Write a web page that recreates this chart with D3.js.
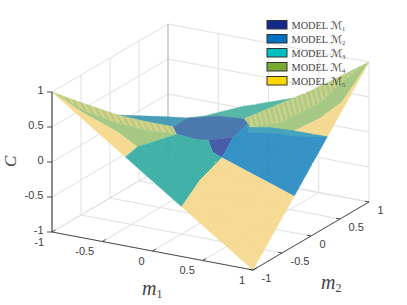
<!DOCTYPE html>
<html>
<head>
<meta charset="utf-8">
<script src="https://cdn.jsdelivr.net/npm/d3@7"></script>
<style>
html,body{margin:0;padding:0;background:#fff}
svg{display:block}
</style>
</head>
<body>
<div id="chart"></div>
<script>
// values
var tickValues = [-1, -0.5, 0, 0.5, 1]
var tickLabels = ["-1", "-0.5", "0", "0.5", "1"]
var legendLabels = ["1", "2", "3", "4", "5"]
var legendColors = ["#14288c", "#0070c0", "#00bfbf", "#78ac30", "#ffd700"]

// region outlines as [m1, m2, C]
var yellowLeft = [[-1,-1,1],[-.81,-.79,.65],[-.58,-.60,.35],[-.37,-.62,.2],[-.27,-1,.27]]
var greenLeft = [[-1,-1,1],[-.85,-.73,.65],[-.69,-.54,.45],[-.46,-.37,.3],[-.28,-.09,.15],[-.37,-.62,.2],[-.58,-.60,.35],[-.81,-.79,.65]]
var stripesLeft = [[-1,-1,1],[-.90,-.65,.7],[-.70,-.38,.45],[-.57,-.17,.3],[-.36,-.02,.2],[-.28,-.09,.15],[-.46,-.37,.3],[-.69,-.54,.45],[-.85,-.73,.65]]
var backBlue = [[-.70,-.38,.45],[-.53,.18,.2],[-.36,.24,.2],[-.36,-.02,.2],[-.57,-.17,.3]]
var backTeal = [[-.36,.24,.2],[-.31,.43,.15],[-.02,.55,.3],[.49,.58,.55],[.16,.30,.3],[-.12,.33,.25]]
var darkBlue = [[-.28,-.09,.15],[-.36,-.02,.2],[-.36,.24,.2],[-.12,.33,.25],[.16,.30,.3],[.21,.28,.25],[.18,.08,.15],[.03,-.09,.15],[-.06,-.13,.15]]
var darkest = [[.03,-.09,.15],[.18,.08,.15],[.27,-.27,.05],[.17,-.26,.1]]
var frontTeal = [[-.27,-1,.27],[-.37,-.62,.2],[-.28,-.09,.15],[-.06,-.13,.15],[.03,-.09,.15],[.17,-.26,.1],[.27,-.27,.05],[.21,-.54,-.15],[.29,-1,-.29]]
var frontYellow = [[.29,-1,-.29],[.21,-.54,-.15],[.27,-.27,.05],[1,-.29,-.29],[1,-1,-1]]
var frontBlue = [[.27,-.27,.05],[.18,.08,.15],[.21,.28,.25],[.27,.20,.25],[.47,.21,.3],[.74,.16,.35],[1,.28,.28],[1,-.29,-.29]]
var blueTop = [[.21,.28,.25],[.27,.20,.25],[.47,.21,.3],[.74,.16,.35],[1,.28,.28],[.74,.16,.28],[.47,.21,.23],[.27,.20,.18],[.21,.28,.18]]
var greenRight = [[.27,.20,.25],[.62,.13,.45],[.73,.28,.55],[.84,.43,.65],[.87,.81,.8],[1,1,1],[.96,.86,.8],[.95,.62,.6],[.95,.25,.55],[.74,.16,.35],[.47,.21,.3]]
var stripesRight = [[.16,.30,.3],[.49,.58,.55],[.62,.69,.65],[1,1,1],[.87,.81,.8],[.84,.43,.65],[.73,.28,.55],[.62,.13,.45],[.27,.20,.25],[.21,.28,.25]]
var yellowRight = [[1,.28,.28],[.74,.16,.35],[.95,.25,.55],[.95,.62,.6],[.96,.86,.8],[1,1,1]]

var regions = [
    {pts: backBlue, fill: "#3e98b4", dot: "#3a8fb0"},
    {pts: backTeal, fill: "#4db5a2", dot: "#46ad9e"},
    {pts: stripesLeft, fill: "#b0c87c", dot: "#d8d080", lean: -30},
    {pts: stripesRight, fill: "#a6c67e", dot: "#c9cf80", lean: -15},
    {pts: greenLeft, fill: "#a3c67c", dot: "#9cc27c"},
    {pts: greenRight, fill: "#a3c67c", dot: "#9cc27c"},
    {pts: yellowLeft, fill: "#f7da8c", dot: "#f3d588"},
    {pts: yellowRight, fill: "#f5d98c", dot: "#f0d488"},
    {pts: darkBlue, fill: "#3f72aa", dot: "#3a6aa6"},
    {pts: darkest, fill: "#3d5aa6", dot: "#31409a"},
    {pts: frontTeal, fill: "#38b0a4", dot: "#2ea59f"},
    {pts: frontBlue, fill: "#2b8fc4", dot: "#2483bd"},
    {pts: blueTop, fill: "#3a9fb8", dot: "#3498bb"},
    {pts: frontYellow, fill: "#f7db90", dot: "#f3d588"}
]

var width = 407, height = 305

// oblique axes, each scale gives the pixel shift of one data axis
var m1X = d3.scaleLinear().domain([-1, 1]).range([0, 201])
var m1Y = d3.scaleLinear().domain([-1, 1]).range([0, 38])
var m2X = d3.scaleLinear().domain([-1, 1]).range([0, 116])
var m2Y = d3.scaleLinear().domain([-1, 1]).range([0, -68])
var cY = d3.scaleLinear().domain([-1, 1]).range([0, -140])

function project(p){
    return [52 + m1X(p[0]) + m2X(p[1]), 232 + m1Y(p[0]) + m2Y(p[1]) + cY(p[2])]
}

var svg = d3.select("#chart").append("svg").attr("width", width).attr("height", height)
var defs = svg.append("defs")
var soft = defs.append("filter").attr("id", "soft")
soft.append("feTurbulence").attr("type", "fractalNoise").attr("baseFrequency", 0.9).attr("numOctaves", 1).attr("seed", 3).attr("result", "noise")
soft.append("feDisplacementMap").attr("in", "SourceGraphic").attr("in2", "noise").attr("scale", 2).attr("result", "rough")
soft.append("feGaussianBlur").attr("in", "rough").attr("stdDeviation", 0.3)

regions.forEach(function(r, i){
    var pat = defs.append("pattern").attr("id", "pat" + i).attr("patternUnits", "userSpaceOnUse")
    if(r.lean){
        pat.attr("width", 5).attr("height", 5).attr("patternTransform", "rotate(" + r.lean + ")")
        pat.append("rect").attr("width", 5).attr("height", 5).attr("fill", r.fill)
        pat.append("rect").attr("width", 2.5).attr("height", 5).attr("fill", r.dot)
    } else {
        pat.attr("width", 3).attr("height", 3)
        pat.append("rect").attr("width", 3).attr("height", 3).attr("fill", r.fill)
        pat.append("rect").attr("x", 0).attr("y", 0).attr("width", 1).attr("height", 1).attr("fill", r.dot)
        pat.append("rect").attr("x", 2).attr("y", 1).attr("width", 1).attr("height", 1).attr("fill", r.dot)
        pat.append("rect").attr("x", 1).attr("y", 2).attr("width", 1).attr("height", 1).attr("fill", r.dot)
    }
})

//#region GRID
var grid = svg.append("g").attr("fill", "none").attr("stroke", "#e0e0e0").attr("stroke-width", 1)
function gridLine(a, b){
    var p = project(a), q = project(b)
    grid.append("line").attr("x1", p[0]).attr("y1", p[1]).attr("x2", q[0]).attr("y2", q[1])
}
tickValues.forEach(function(t){
    gridLine([t, -1, -1], [t, 1, -1])
    gridLine([-1, t, -1], [1, t, -1])
    gridLine([-1, t, -1], [-1, t, 1])
    gridLine([t, 1, -1], [t, 1, 1])
    gridLine([-1, -1, t], [-1, 1, t])
    gridLine([-1, 1, t], [1, 1, t])
})
var corner = project([-1, 1, -1]), cornerTop = project([-1, 1, 1])
grid.append("line").attr("x1", corner[0]).attr("y1", corner[1]).attr("x2", cornerTop[0]).attr("y2", cornerTop[1]).attr("stroke", "#bdbdbd")

//#region SURFACE
var lineGen = d3.line().x(function(p){ return project(p)[0] }).y(function(p){ return project(p)[1] })
svg.append("g").attr("filter", "url(#soft)").attr("opacity", 0.93).selectAll("path").data(regions).enter().append("path")
    .attr("d", function(r){ return lineGen(r.pts) + "Z" })
    .attr("fill", function(r, i){ return "url(#pat" + i + ")" })
    .attr("stroke", function(r){ return r.fill })
    .attr("stroke-width", 0.5)

//#region AXES
var axes = svg.append("g").attr("font-family", "'Liberation Sans', Arial, sans-serif").attr("font-size", 11).attr("fill", "#404040")
function axisLine(a, b, color, w){
    var p = project(a), q = project(b)
    axes.append("line").attr("x1", p[0]).attr("y1", p[1]).attr("x2", q[0]).attr("y2", q[1]).attr("stroke", color).attr("stroke-width", w)
}
axisLine([-1, -1, -1], [-1, -1, 1], "#8c8c8c", 2)
axisLine([-1, -1, -1], [1, -1, -1], "#262626", 0.8)
axisLine([1, -1, -1], [1, 1, -1], "#262626", 0.8)

tickValues.forEach(function(t, i){
    // C ticks
    var pc = project([-1, -1, t])
    axes.append("line").attr("x1", pc[0] - 5).attr("y1", pc[1]).attr("x2", pc[0]).attr("y2", pc[1]).attr("stroke", "#262626").attr("stroke-width", 0.8)
    axes.append("text").attr("x", pc[0] - 8.5).attr("y", pc[1] + 1.5).attr("text-anchor", "end").text(tickLabels[i])

    // m1 ticks
    var p1 = project([t, -1, -1]), p1b = project([t, -0.94, -1])
    axes.append("line").attr("x1", p1[0]).attr("y1", p1[1]).attr("x2", p1b[0]).attr("y2", p1b[1]).attr("stroke", "#262626").attr("stroke-width", 0.8)
    axes.append("text").attr("x", p1[0] - 8).attr("y", p1[1] + 13.5).attr("text-anchor", "end").text(tickLabels[i])

    // m2 ticks
    var p2 = project([1, t, -1]), p2b = project([0.96, t, -1])
    axes.append("line").attr("x1", p2[0]).attr("y1", p2[1]).attr("x2", p2b[0]).attr("y2", p2b[1]).attr("stroke", "#262626").attr("stroke-width", 0.8)
    axes.append("text").attr("x", p2[0] + 8.5).attr("y", p2[1] + 11.5).attr("text-anchor", "start").text(tickLabels[i])
})

//#region LABELS
var labels = svg.append("g").attr("font-family", "'Liberation Serif', serif").attr("fill", "#444")
function mathLabel(x, y, name, sub){
    var t = labels.append("text").attr("x", x).attr("y", y).attr("font-size", 20).attr("font-style", "italic").text(name)
    t.append("tspan").attr("font-size", 12).attr("font-style", "normal").attr("dy", 3).text(sub)
}
mathLabel(142, 295, "m", "1")
mathLabel(321, 289, "m", "2")
labels.append("text").attr("transform", "translate(16,167) rotate(-90)").attr("font-size", 17).attr("font-style", "italic").text("C")

//#region LEGEND
var legend = svg.append("g").selectAll("g").data(legendLabels).enter().append("g")
    .attr("transform", function(d, i){ return "translate(267," + (20.5 + i * 14) + ")" })
legend.append("rect").attr("width", 20).attr("height", 8.5)
    .attr("fill", function(d, i){ return legendColors[i] })
    .attr("stroke", "#333").attr("stroke-width", 1)
var legendText = legend.append("text").attr("x", 24.5).attr("y", 8).attr("fill", "#444")
    .attr("font-family", "'Liberation Serif', serif").attr("font-size", 10.3)
legendText.append("tspan").text("MODEL ")
legendText.append("tspan").attr("font-family", "'DejaVu Sans', sans-serif").attr("font-style", "italic").attr("font-size", 11).text("\u2133")
legendText.append("tspan").attr("font-size", 6.5).attr("dy", 2).text(function(d){ return d })
</script>
</body>
</html>
